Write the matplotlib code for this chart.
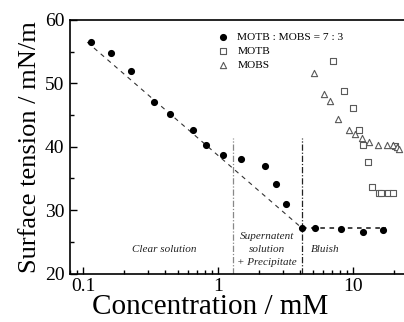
import matplotlib
matplotlib.use("Agg")
import matplotlib.pyplot as plt
from matplotlib.ticker import LogLocator, NullFormatter, MultipleLocator

plt.rcParams['font.family'] = ['Liberation Serif', 'DejaVu Serif']

# MOTB : MOBS = 7 : 3 mixture
mix_conc = [0.114, 0.161, 0.224, 0.334, 0.439, 0.650, 0.811, 1.089, 1.47,
            2.21, 2.67, 3.19, 4.17, 5.23, 8.15, 11.8, 16.5]
mix_tension = [56.6, 54.8, 52.0, 47.1, 45.2, 42.6, 40.2, 38.7, 38.0,
               36.9, 34.1, 30.9, 27.2, 27.2, 27.1, 26.6, 26.9]

# MOTB alone
motb_conc = [7.11, 8.58, 10.0, 11.08, 11.86, 12.8, 13.8, 15.6, 15.96, 17.98, 19.6, 20.3]
motb_tension = [53.6, 48.8, 46.1, 42.6, 40.3, 37.6, 33.7, 32.65, 32.75, 32.65, 32.75, 40.1]

# MOBS alone
mobs_conc = [5.12, 6.07, 6.72, 7.7, 9.34, 10.35, 11.6, 13.1, 15.3, 17.7, 19.8, 20.96, 21.9]
mobs_tension = [51.6, 48.3, 47.2, 44.4, 42.7, 42.0, 41.4, 40.8, 40.2, 40.3, 40.2, 40.0, 39.65]

# Guide lines: linear decrease in log(c), then plateau above the break point
fit_conc = [0.107, 4.17]
fit_tension = [56.5, 27.15]
plateau_conc = [4.17, 17.5]
plateau_tension = [27.15, 27.15]

# Phase boundaries
boundary_conc = [1.28, 4.17]
boundary_top = 41.4

region_labels = ["Clear solution", "Supernatent\nsolution\n+ Precipitate", "Bluish"]

fig = plt.figure(figsize=(4.04, 3.22), dpi=100)
ax = fig.add_axes([70/404, 48.5/322, 337/404, 253.5/322])

ax.set_xscale('log')
ax.set_xlim(0.0797, 25.0)
ax.set_ylim(20, 60)

ax.plot(fit_conc, fit_tension, linestyle=(0, (4, 4)), color='#333333', lw=0.8, zorder=2)
ax.plot(plateau_conc, plateau_tension, linestyle=(0, (3, 3)), color='#111111', lw=1.1, zorder=2)

ax.plot([boundary_conc[0]] * 2, [20, boundary_top], linestyle=(0, (5, 1.5, 1, 1.5)),
        color='#888888', lw=0.9, zorder=1)
ax.plot([boundary_conc[1]] * 2, [20, boundary_top], linestyle=(0, (5, 1.5, 1, 1.5)),
        color='#222222', lw=0.9, zorder=1)

ax.scatter(mix_conc, mix_tension, s=17, marker='o', color='black', zorder=4,
           label='MOTB : MOBS = 7 : 3')
ax.scatter(motb_conc, motb_tension, s=13, marker='s', facecolor='white',
           edgecolor='#5a5a5a', linewidths=0.8, zorder=3, label='MOTB')
ax.scatter(mobs_conc, mobs_tension, s=20, marker='^', facecolor='white',
           edgecolor='#5a5a5a', linewidths=0.8, zorder=3, label='MOBS')

ax.text(0.40, 23.8, region_labels[0], style='italic', fontsize=8,
        ha='center', va='center', color='#222222')
ax.text(2.28, 23.8, region_labels[1], style='italic', fontsize=8,
        ha='center', va='center', color='#222222', linespacing=1.55)
ax.text(4.85, 23.8, region_labels[2], style='italic', fontsize=8,
        ha='left', va='center', color='#222222')

leg = ax.legend(loc='upper left', bbox_to_anchor=(143/337, 1 - 7/253.5), frameon=False,
                fontsize=8.2, handletextpad=0.75, labelspacing=0.37, borderaxespad=0,
                handlelength=1.0, scatterpoints=1)

ax.set_xticks([0.1, 1, 10])
ax.set_xticklabels(['0.1', '1', '10'])
ax.xaxis.set_minor_locator(LogLocator(base=10, subs=range(2, 10)))
ax.xaxis.set_minor_formatter(NullFormatter())
ax.yaxis.set_major_locator(MultipleLocator(10))
ax.yaxis.set_minor_locator(MultipleLocator(5))

ax.tick_params(which='both', direction='in', top=False, right=False, labelsize=14, width=1.0)
ax.tick_params(which='major', length=5)
ax.tick_params(axis='x', which='major', pad=3)
ax.tick_params(axis='y', which='major', pad=4)
ax.tick_params(which='minor', length=3)

for side in ['left', 'bottom', 'top', 'right']:
    ax.spines[side].set_linewidth(1.2)

ax.set_xlabel('Concentration / mM', fontsize=21, va='baseline')
ax.xaxis.set_label_coords(140/337, -40/253.5)
ax.set_ylabel('Surface tension / mN/m', fontsize=19, labelpad=3)

fig.savefig('out.png', dpi=100)
